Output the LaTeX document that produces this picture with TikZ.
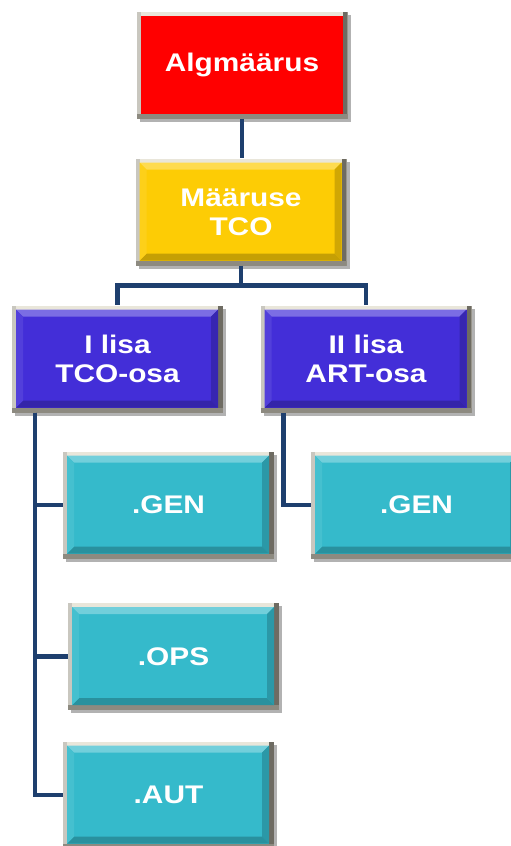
\documentclass[tikz,border=0pt]{standalone}
\usepackage{fontspec}
\newfontfamily\boxfont{Liberation Sans}[FakeStretch=1.17]
\usetikzlibrary{calc, positioning, shadows}

\definecolor{algred}{HTML}{FF0000}
\definecolor{maaryellow}{HTML}{FDCC05}
\definecolor{lisablue}{HTML}{432ED8}
\definecolor{osacyan}{HTML}{35BACB}
\definecolor{framec}{HTML}{E9E6DA}
\definecolor{framedk}{HTML}{6E6B62}
\definecolor{linkc}{HTML}{1E3F6E}

\newcommand{\tileframe}{%
  \coordinate (bl) at (path picture bounding box.south west);
  \coordinate (tr) at (path picture bounding box.north east);
  \fill[framec!70!gray] (bl) rectangle ($(bl|-tr)+(4pt,0)$);
  \fill[framedk] ($(tr|-bl)+(-5pt,0)$) rectangle (tr);
  \fill[framedk!75!framec] (bl) rectangle ($(tr|-bl)+(0,5pt)$);
  \coordinate (isw) at ($(bl)+(4pt,5pt)$);
  \coordinate (ine) at ($(tr)+(-5pt,-4pt)$);}

\tikzset{
  tile/.style={rectangle, minimum width=211pt, minimum height=107pt, inner sep=0pt,
    align=center, text=white, font=\boxfont\bfseries\fontsize{25.5}{29}\selectfont,
    fill=framec, drop shadow={shadow xshift=3pt, shadow yshift=-3pt, fill=black, opacity=0.3}},
  flat/.style={tile, path picture={\tileframe
      \fill[#1] (isw) rectangle (ine);}},
  box/.style={tile, path picture={\tileframe
      \fill[#1] (isw) rectangle (ine);
      \coordinate (jsw) at ($(isw)+(7pt,7pt)$);
      \coordinate (jne) at ($(ine)+(-7pt,-7pt)$);
      \fill[#1!70!white] (isw|-ine) -- (ine) -- (jne) -- (jsw|-jne) -- cycle;
      \fill[#1!82!black] (ine|-isw) -- (ine) -- (jne) -- (jne|-jsw) -- cycle;
      \fill[#1!78!black] (isw) -- (ine|-isw) -- (jne|-jsw) -- (jsw) -- cycle;
      \fill[#1!92!white] (isw) -- (isw|-ine) -- (jsw|-jne) -- (jsw) -- cycle;}},
  link/.style={draw=linkc, line width=4.5pt}
}

\begin{document}
\begin{tikzpicture}[x=1pt, y=-1pt]
  \useasboundingbox (0,0) rectangle (511,846);
  \clip (0,0) rectangle (511,846);
  \fill[white] (0,0) rectangle (511,846);

  \node[flat=algred] at (242, 65) (alg) {Algmäärus};
  \node[box=maaryellow] at (241, 212) (maar) {Määruse\\TCO};
  \node[box=lisablue] at (117.5, 359) (lisa1) {I lisa\\TCO-osa};
  \node[box=lisablue] at (366, 359) (lisa2) {II lisa\\ART-osa};
  \node[box=osacyan] at (168.5, 505) (gen1) {.GEN};
  \node[box=osacyan] at (416.5, 505) (gen2) {.GEN};
  \node[box=osacyan] at (173.5, 656.5) (ops) {.OPS};
  \node[box=osacyan] at (168.5, 795) (aut) {.AUT};

  \coordinate (bus) at ([yshift=-20pt]maar.south);
  \coordinate (stem1) at ([xshift=23pt]lisa1.south west);
  \coordinate (stem2) at ([xshift=23pt]lisa2.south west);

  \draw[link] (alg.south) -- (alg.south |- maar.north);
  \draw[link] (maar.south) -- (bus) -| (lisa1.north);
  \draw[link] (bus) -| (lisa2.north);
  \draw[link] (stem1) |- (gen1.west);
  \draw[link] (stem1) |- (ops.west);
  \draw[link] (stem1) |- (aut.west);
  \draw[link] (stem2) |- (gen2.west);
\end{tikzpicture}
\end{document}
